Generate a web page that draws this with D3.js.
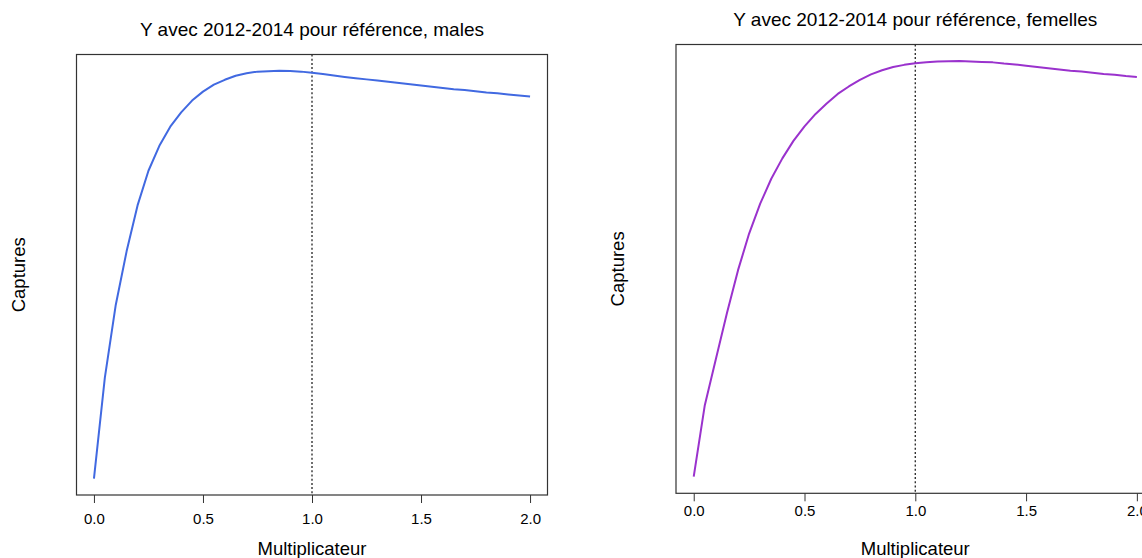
<!DOCTYPE html>
<html>
<head>
<meta charset="utf-8">
<script src="https://cdn.jsdelivr.net/npm/d3@7"></script>
<style>
  html, body { margin: 0; padding: 0; background: #fff; }
  svg { display: block; font-family: "Liberation Sans", Arial, sans-serif; }
</style>
</head>
<body>
<svg id="chart" width="1142" height="558"></svg>
<script>
// multiplier applied to the 2012-2014 reference
const multiplicateur = [0.00, 0.05, 0.10, 0.15, 0.20, 0.25, 0.30, 0.35, 0.40, 0.45,
  0.50, 0.55, 0.60, 0.65, 0.70, 0.75, 0.80, 0.85, 0.90, 0.95,
  1.00, 1.05, 1.10, 1.15, 1.20, 1.25, 1.30, 1.35, 1.40, 1.45,
  1.50, 1.55, 1.60, 1.65, 1.70, 1.75, 1.80, 1.85, 1.90, 1.95, 2.00];

// relative catches (no y ticks in the original, values read as an index)
const capturesMales = [0.0, 24.8, 42.6, 55.8, 67.0, 75.5, 81.6, 86.3, 89.8, 92.7,
  94.9, 96.6, 97.8, 98.8, 99.4, 99.8, 99.9, 100.0, 99.95, 99.8,
  99.5, 99.2, 98.85, 98.5, 98.2, 97.9, 97.6, 97.3, 97.0, 96.7,
  96.4, 96.1, 95.8, 95.5, 95.3, 95.0, 94.7, 94.5, 94.2, 93.95, 93.7];

const capturesFemelles = [0.0, 17.2, 28.3, 39.4, 49.7, 58.5, 65.7, 71.7, 76.6, 80.8,
  84.3, 87.3, 89.8, 92.1, 93.9, 95.5, 96.8, 97.8, 98.6, 99.1,
  99.5, 99.7, 99.9, 99.95, 100.0, 99.9, 99.8, 99.7, 99.4, 99.2,
  98.9, 98.6, 98.3, 98.0, 97.7, 97.5, 97.2, 96.9, 96.7, 96.4, 96.2];

const xTicks = [0, 0.5, 1.0, 1.5, 2.0];
const reference = 1.0;
const titles = ['Y avec 2012-2014 pour référence, males',
                'Y avec 2012-2014 pour référence, femelles'];
const xLabel = 'Multiplicateur';
const yLabel = 'Captures';

const svg = d3.select('#chart');

// R-style axis range: data extent padded by 4% on each side
function padded(extent) {
  const r = extent[1] - extent[0];
  return [extent[0] - 0.04 * r, extent[1] + 0.04 * r];
}

function drawPanel(p) {
  const x = d3.scaleLinear().domain(padded([0, 2])).range([p.left, p.right]);
  const y = d3.scaleLinear().domain(padded(d3.extent(p.values))).range([p.bottom, p.top]);

  const g = svg.append('g');

  // x axis (ticks only, the box provides the line)
  const axis = g.append('g')
      .attr('transform', `translate(0,${p.bottom})`)
      .call(d3.axisBottom(x)
          .tickValues(xTicks)
          .tickFormat(d3.format('.1f'))
          .tickSize(8)
          .tickPadding(p.tickPad));
  axis.select('.domain').remove();
  axis.selectAll('line').attr('stroke', '#333');
  axis.selectAll('text')
      .attr('fill', '#000')
      .style('font-size', '15px')
      .style('font-family', '"Liberation Sans", Arial, sans-serif');

  // reference line at multiplier 1
  g.append('line')
      .attr('x1', x(reference)).attr('x2', x(reference))
      .attr('y1', p.top).attr('y2', p.bottom)
      .attr('stroke', '#333')
      .attr('stroke-width', 1.4)
      .attr('stroke-dasharray', '2,2.2');

  // curve
  const line = d3.line()
      .x((d, i) => x(multiplicateur[i]))
      .y(d => y(d));
  g.append('path')
      .datum(p.values)
      .attr('d', line)
      .attr('fill', 'none')
      .attr('stroke', p.color)
      .attr('stroke-width', 2)
      .attr('stroke-linejoin', 'round');

  // box
  g.append('rect')
      .attr('x', p.left).attr('y', p.top)
      .attr('width', p.right - p.left)
      .attr('height', p.bottom - p.top)
      .attr('fill', 'none')
      .attr('stroke', '#333')
      .attr('stroke-width', 1.2);

  const mid = (p.left + p.right) / 2;

  g.append('text')
      .attr('x', mid).attr('y', p.titleY)
      .attr('text-anchor', 'middle')
      .style('font-size', '19px')
      .text(p.title);

  g.append('text')
      .attr('x', x(1)).attr('y', 555)
      .attr('text-anchor', 'middle')
      .style('font-size', '18.5px')
      .text(xLabel);

  g.append('text')
      .attr('transform', `translate(${p.yLabelX},${(p.top + p.bottom) / 2}) rotate(-90)`)
      .attr('text-anchor', 'middle')
      .style('font-size', '18.5px')
      .text(yLabel);
}

drawPanel({ values: capturesMales, color: '#4169e1', title: titles[0],
  left: 76.5, right: 547.5, top: 54.5, bottom: 495, tickPad: 10, titleY: 36, yLabelX: 25 });

drawPanel({ values: capturesFemelles, color: '#9a32cd', title: titles[1],
  left: 676, right: 1154.6, top: 44.5, bottom: 493.3, tickPad: 4, titleY: 26, yLabelX: 623.5 });
</script>
</body>
</html>
